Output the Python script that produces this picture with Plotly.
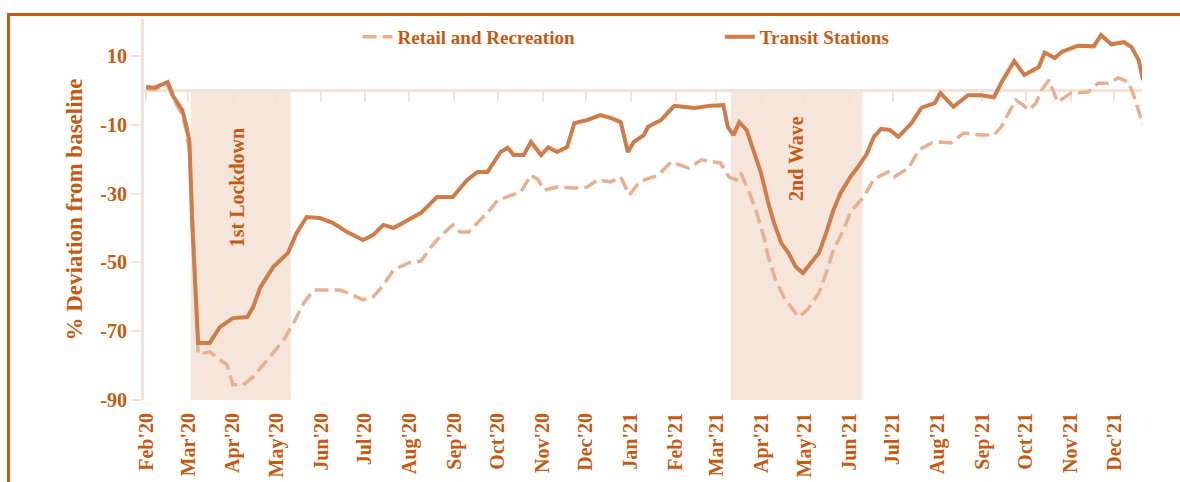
import pandas as pd
import plotly.graph_objects as go

# ---- data ----
ORIGIN = "2020-02-15"  # day 0 of the day offsets below

transit_day = [0, 6, 10, 15, 19, 25, 28, 30, 32, 36, 44, 51, 60, 70, 74, 79, 88, 98, 104, 111,
               120, 129, 139, 150, 157, 164, 171, 181, 190, 197, 201, 212, 222, 229, 236, 245,
               250, 254, 261, 266, 273, 278, 284, 291, 296, 305, 314, 321, 328, 333, 337, 344,
               347, 356, 361, 365, 379, 390, 399, 402, 406, 410, 415, 419, 425, 430, 434, 439,
               444, 449, 454, 460, 465, 470, 475, 480, 487, 492, 498, 503, 508, 514, 520, 529,
               536, 545, 549, 558, 568, 577, 586, 591, 600, 607, 617, 621, 628, 633, 644, 655,
               660, 667, 676, 681, 686, 689]
transit_val = [1.0, 0.8, 1.5, 2.4, -1.9, -5.7, -10.6, -15, -39.7, -73.4, -73.4, -68.8, -66.2,
               -65.9, -63, -57.2, -51.3, -47.3, -41.5, -36.8, -37.1, -38.5, -41.2, -43.5, -42,
               -39.1, -40, -37.7, -35.6, -32.7, -31, -31, -26, -23.7, -23.7, -17.9, -16.7, -18.8,
               -18.8, -15, -18.8, -16.5, -17.9, -16.5, -9.5, -8.6, -7.2, -8, -9.2, -17.9, -15,
               -13, -10.6, -8.6, -6.3, -4.5, -5.1, -4.5, -4.3, -10.6, -13, -9.2, -11.5, -16.5,
               -24, -32.7, -38.5, -44.4, -47.3, -51.3, -53.1, -49.9, -47.3, -41.5, -34.8, -29.8,
               -25, -22.3, -18.5, -13.5, -11.2, -11.5, -13.5, -9.5, -5, -3.7, -0.8, -4.8, -1.4,
               -1.4, -2, 2.2, 8.5, 4.5, 6.8, 11, 9.4, 11.2, 13, 12.8, 16.1, 13.4, 14, 12.6, 8.8, 3]

retail_day = [0, 6, 10, 15, 19, 25, 28, 30, 33, 36, 44, 51, 56, 60, 67, 74, 81, 88, 95, 102,
              109, 116, 125, 134, 143, 150, 157, 164, 171, 181, 190, 197, 203, 212, 217, 223,
              229, 236, 243, 252, 259, 266, 271, 275, 284, 296, 305, 312, 321, 328, 334, 341,
              354, 363, 375, 384, 397, 403, 408, 411, 417, 422, 427, 430, 435, 441, 447, 451,
              457, 465, 470, 475, 482, 487, 496, 503, 513, 517, 527, 534, 543, 549, 556, 565,
              577, 586, 591, 596, 601, 606, 610, 615, 619, 624, 627, 630, 639, 651, 658, 665,
              672, 679, 683, 686, 689]
retail_val = [0.5, 0.3, 1, 1.5, -2.5, -7, -12, -18, -45, -76.6, -76, -78.4, -79.8, -85.6, -85.6,
              -83.3, -79.8, -76.3, -72.6, -67.6, -61.8, -58, -58, -58, -59.5, -60.9, -60, -56.6,
              -52.2, -50.2, -49.6, -45.5, -42.6, -39.1, -41.2, -41.2, -38.5, -35.6, -31.9, -30.4,
              -29.5, -24.6, -26, -29, -28.1, -28.4, -28.1, -26, -26.6, -25.2, -30.4, -26.6,
              -24.6, -20.8, -22.6, -20.2, -21.1, -25.2, -26, -24, -29.8, -35.6, -42.6, -48.4,
              -55.1, -60.3, -63.8, -65.9, -63.8, -58.9, -53.1, -46.4, -40.6, -35.2, -31, -25.8,
              -23.7, -25.2, -22.6, -17.3, -15.3, -15, -15.3, -12.4, -13, -13, -10.6, -6.6, -2.8,
              -4.2, -5.7, -3.7, 0.1, 3, 0.1, -3.4, -0.8, -0.5, 2.1, 2.1, 3.6, 2.4, -2, -5.7, -10]

month_ticks = ["2020-02-15", "2020-03-15", "2020-04-15", "2020-05-15", "2020-06-15",
               "2020-07-15", "2020-08-15", "2020-09-15", "2020-10-15", "2020-11-15",
               "2020-12-15", "2021-01-15", "2021-02-15", "2021-03-15", "2021-04-15",
               "2021-05-15", "2021-06-15", "2021-07-15", "2021-08-15", "2021-09-15",
               "2021-10-15", "2021-11-15", "2021-12-15"]
month_labels = ["Feb'20", "Mar'20", "Apr'20", "May'20", "Jun'20", "Jul'20", "Aug'20",
                "Sep'20", "Oct'20", "Nov'20", "Dec'20", "Jan'21", "Feb'21", "Mar'21",
                "Apr'21", "May'21", "Jun'21", "Jul'21", "Aug'21", "Sep'21", "Oct'21",
                "Nov'21", "Dec'21"]

y_ticks = [10, -10, -30, -50, -70, -90]
y_tick_labels = ["10", "-10", "-30", "-50", "-70", "-90"]

band_names = ["1st Lockdown", "2nd Wave"]
band_start = ["2020-03-17", "2021-03-25"]
band_end = ["2020-05-25", "2021-06-24"]
band_label_x = ["2020-04-18", "2021-05-09"]
band_label_y = [-28.4, -19.7]

x_range = ["2020-02-13 14:00", "2022-01-03 07:00"]
y_range = [-90, 20.75]

# ---- styles ----
TXT = "#C55A11"
AXC = "#F4E2D7"
BAND = "#F6E5DB"
FONT = "Liberation Serif"

t0 = pd.Timestamp(ORIGIN)
transit_x = t0 + pd.to_timedelta(transit_day, unit="D")
retail_x = t0 + pd.to_timedelta(retail_day, unit="D")

fig = go.Figure()
# empty helper trace so the zero-level axis (x2) gets drawn
fig.add_trace(go.Scatter(x=[], y=[], xaxis="x2", yaxis="y", showlegend=False,
                         hoverinfo="skip"))
fig.add_trace(go.Scatter(x=retail_x, y=retail_val, mode="lines", name="Retail and Recreation",
                         line=dict(color="#E7B090", width=3.5, dash="14px,6px"),
                         legend="legend"))
fig.add_trace(go.Scatter(x=transit_x, y=transit_val, mode="lines", name="Transit Stations",
                         line=dict(color="#D07C48", width=4), legend="legend2"))

for s, e in zip(band_start, band_end):
    fig.add_shape(type="rect", xref="x", yref="y", x0=s, x1=e, y0=y_range[0], y1=0,
                  fillcolor=BAND, line=dict(width=0), layer="below")

for name, bx, by in zip(band_names, band_label_x, band_label_y):
    fig.add_annotation(x=bx, y=by, xref="x", yref="y", text=name, showarrow=False,
                       textangle=-90, font=dict(family=FONT, size=20, color=TXT, weight="bold"))

# outer frame
fig.add_shape(type="rect", xref="paper", yref="paper", x0=-0.1358, x1=1.06, y0=-0.3, y1=1.0118,
              line=dict(color=TXT, width=3), fillcolor="rgba(0,0,0,0)", layer="above")

zero_pos = (0 - y_range[0]) / (y_range[1] - y_range[0])

tickfont = dict(family=FONT, size=20, color=TXT, weight="bold")
legfont = dict(family=FONT, size=19, color=TXT, weight="bold")
fig.update_layout(
    width=1180, height=482, autosize=False,
    margin=dict(l=144, r=38, t=19, b=82),
    paper_bgcolor="white", plot_bgcolor="white",
    showlegend=True,
    xaxis=dict(type="date", range=x_range, tickvals=month_ticks, ticktext=month_labels,
               tickangle=-90, showline=False, showgrid=False, zeroline=False, ticks="",
               tickfont=tickfont, ticklabelstandoff=8, automargin=False),
    xaxis2=dict(type="date", range=x_range, overlaying="x", anchor="free", position=zero_pos,
                side="bottom", showline=True, linecolor=AXC, linewidth=3, ticks="outside",
                ticklen=10, tickwidth=2, tickcolor=AXC, tickvals=month_ticks,
                showticklabels=False, showgrid=False, zeroline=False, layer="below traces",
                automargin=False),
    yaxis=dict(range=y_range, tickvals=y_ticks, ticktext=y_tick_labels, showline=True,
               linecolor=AXC, linewidth=3, ticks="outside", ticklen=10, tickwidth=2,
               tickcolor=AXC, showgrid=False, zeroline=False, tickfont=tickfont,
               layer="below traces", automargin=False,
               title=dict(text="% Deviation from baseline", standoff=12,
                          font=dict(family=FONT, size=23, color=TXT, weight="bold"))),
    legend=dict(orientation="h", x=0.214, y=0.953, xanchor="left", yanchor="middle",
                bgcolor="rgba(0,0,0,0)", font=legfont),
    legend2=dict(orientation="h", x=0.577, y=0.953, xanchor="left", yanchor="middle",
                 bgcolor="rgba(0,0,0,0)", font=legfont),
)

fig.write_html("out.html", config={"displayModeBar": False},
               post_script="document.body.style.margin='0px';")
